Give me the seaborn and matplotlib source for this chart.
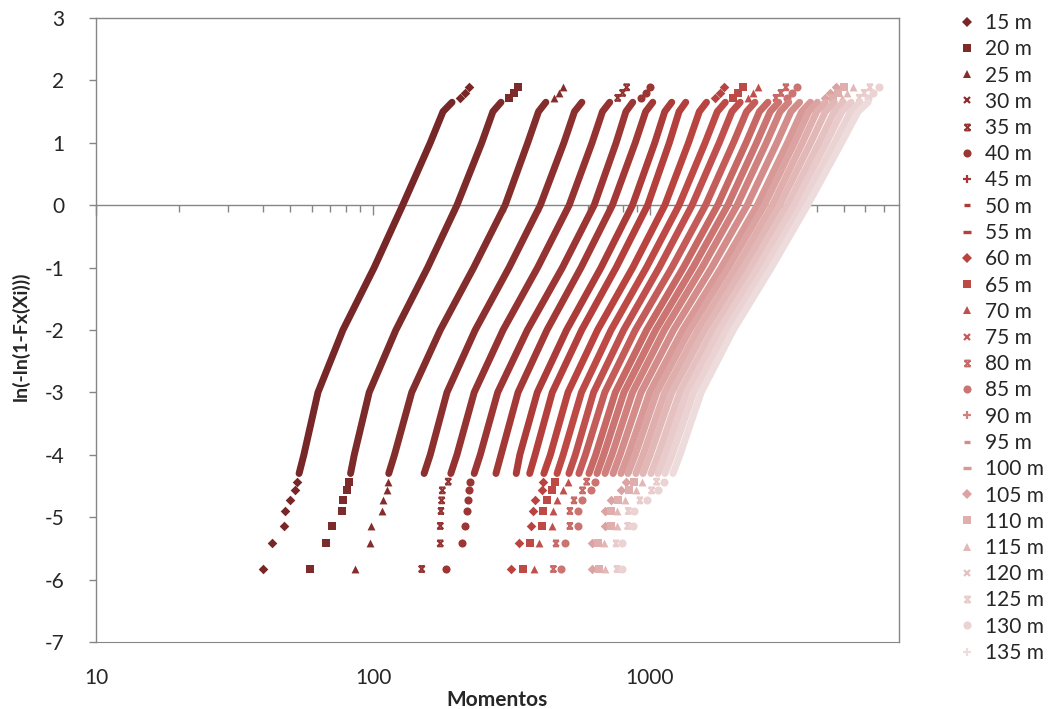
import numpy as np
import pandas as pd
import matplotlib
matplotlib.use("Agg")
import matplotlib.pyplot as plt
import seaborn as sns
from matplotlib.path import Path
from matplotlib.lines import Line2D
from matplotlib.ticker import FixedLocator, NullLocator, NullFormatter, FixedFormatter, LogLocator

sns.set_style("white")
plt.rcParams["font.family"] = ["Lato", "DejaVu Sans"]
plt.rcParams["axes.unicode_minus"] = False

names = ["15 m", "20 m", "25 m", "30 m", "35 m", "40 m", "45 m", "50 m", "55 m",
         "60 m", "65 m", "70 m", "75 m", "80 m", "85 m", "90 m", "95 m", "100 m",
         "105 m", "110 m", "115 m", "120 m", "125 m", "130 m", "135 m"]

# y levels: ln(-ln(1-Fx(Xi)))
y_bottom = [-5.83, -5.42, -5.14, -4.90, -4.73, -4.57, -4.43]
y_band = [-4.3, -4.0, -3.0, -2.0, -1.0, 0.0, 1.0, 1.5, 1.65]
y_top = [1.72, 1.80, 1.89]

# Momentos, one list per series: bottom | band | top
m15 = [40.2, 43.1, 47.8, 48.2, 50.3, 52.4, 53.3, 54.1, 56.3, 63.3, 77.9, 101, 128, 161, 179, 193, 206, 215, 223]
m20 = [59.2, 67.7, 70.9, 77.5, 78.1, 80.4, 81.9, 83, 85.6, 96.9, 121, 157.5, 201, 247, 271, 290, 310, 323, 335]
m25 = [86.1, 97.8, 98.3, 108, 109, 112.6, 113, 114, 119.6, 138, 175, 231, 300, 362, 396, 421, 450, 469, 487]
m30 = [118, 136, 136, 136, 137, 146, 151, 153, 161, 185, 234, 310, 402, 489, 534, 568, 607, 632, 655]
m35 = [150, 175, 175, 176, 177, 178, 187, 191, 201, 232, 295, 393, 511, 618, 674, 716, 765, 797, 824]
m40 = [183, 210, 215, 218, 220, 222, 224, 232, 244, 282, 361, 483, 629, 755, 819, 867, 927, 966, 1000]
m45 = [217, 241, 254, 265, 267, 270, 275, 278, 290, 334, 425, 564, 732, 885, 965, 1024, 1095, 1141, 1181]
m50 = [252, 276, 298, 311, 317, 319, 326, 329, 339, 392, 500, 666, 865, 1041, 1131, 1199, 1282, 1336, 1379]
m55 = [280, 304, 330, 338, 349, 354, 364, 368, 385, 444, 567, 755, 981, 1175, 1274, 1347, 1440, 1501, 1557]
m60 = [314, 336, 371, 377, 385, 406, 410, 414, 437, 506, 647, 867, 1132, 1378, 1508, 1601, 1711, 1784, 1850]
m65 = [347, 369, 406, 412, 424, 444, 454, 462, 486, 566, 724, 971, 1274, 1582, 1751, 1872, 2001, 2085, 2172]
m70 = [380, 399, 442, 448, 461, 486, 507, 510, 538, 626, 804, 1080, 1420, 1779, 1977, 2118, 2264, 2359, 2460]
m75 = [413, 431, 477, 484, 498, 529, 546, 554, 585, 687, 886, 1200, 1588, 2002, 2233, 2394, 2559, 2667, 2773]
m80 = [448, 458, 514, 514, 532, 571, 591, 602, 637, 750, 973, 1321, 1756, 2224, 2485, 2667, 2851, 2971, 3097]
m85 = [479, 493, 548, 551, 567, 611, 633, 644, 681, 806, 1049, 1430, 1910, 2427, 2719, 2918, 3119, 3251, 3385]
m90 = [512, 529, 583, 583, 599, 651, 678, 688, 729, 865, 1128, 1543, 2065, 2632, 2951, 3170, 3389, 3531, 3698]
m95 = [547, 559, 624, 621, 638, 692, 723, 736, 780, 929, 1217, 1671, 2245, 2874, 3229, 3471, 3710, 3867, 4042]
m100 = [583, 588, 656, 653, 678, 737, 771, 786, 835, 998, 1313, 1810, 2443, 3137, 3532, 3798, 4060, 4231, 4429]
m105 = [618, 618, 688, 686, 721, 786, 821, 833, 885, 1058, 1391, 1918, 2589, 3325, 3744, 4024, 4302, 4483, 4694]
m110 = [655, 649, 721, 721, 766, 838, 876, 890, 945, 1131, 1487, 2050, 2768, 3553, 4002, 4301, 4598, 4791, 5017]
m115 = [688, 682, 758, 758, 814, 892, 933, 944, 1002, 1200, 1578, 2178, 2941, 3805, 4300, 4634, 4954, 5162, 5393]
m120 = [723, 717, 794, 797, 866, 951, 994, 1009, 1071, 1282, 1684, 2320, 3137, 4079, 4626, 4992, 5336, 5561, 5813]
m125 = [760, 754, 831, 835, 920, 1014, 1057, 1069, 1135, 1357, 1780, 2452, 3314, 4336, 4930, 5331, 5699, 5939, 6228]
m130 = [792, 792, 870, 878, 973, 1072, 1123, 1133, 1203, 1439, 1890, 2604, 3525, 4641, 5300, 5743, 6139, 6398, 6727]
m135 = [819, 826, 908, 920, 1028, 1133, 1194, 1211, 1284, 1531, 2000, 2744, 3706, 4919, 5645, 6138, 6561, 6838, 7190]

series = [m15, m20, m25, m30, m35, m40, m45, m50, m55, m60, m65, m70, m75,
          m80, m85, m90, m95, m100, m105, m110, m115, m120, m125, m130, m135]

colors = ["#772727", "#7C2A2A", "#842D2D", "#8C302F", "#943331", "#9B3634", "#A33936",
          "#AB3C39", "#B3403C", "#B9443F", "#BE4A46", "#C0504D", "#C45C59", "#C86865",
          "#CC7471", "#D0807D", "#D48C8A", "#D89896", "#DBA3A2", "#DFAEAD", "#E2B8B7",
          "#E5C2C1", "#E8CBCA", "#EBD3D3", "#EEDCDC"]

star = Path([(-1, -1), (1, 1), (-1, 1), (1, -1), (-1, 1), (1, 1), (-1, -1), (1, -1)],
            [Path.MOVETO, Path.LINETO, Path.MOVETO, Path.LINETO,
             Path.MOVETO, Path.LINETO, Path.MOVETO, Path.LINETO])
# Excel cycle: diamond, square, triangle, x, star, circle, plus, short dash, long dash
marker_cycle = [("D", 24, True, 0), ("s", 28, True, 0), ("^", 32, True, 0),
                ("x", 20, False, 1.6), (star, 18, False, 1.4), ("o", 34, True, 0),
                ("+", 26, False, 1.6), ("_", 14, False, 2.4), ("_", 40, False, 2.4)]

levels = y_bottom + y_band + y_top
parts = ["bottom"] * len(y_bottom) + ["band"] * len(y_band) + ["top"] * len(y_top)
rows = []
for name, vals in zip(names, series):
    for x, y, p in zip(vals, levels, parts):
        rows.append((name, x, y, p))
df = pd.DataFrame(rows, columns=["serie", "momento", "y", "part"])

grey = "#868686"
fig = plt.figure(figsize=(10.49, 7.09), dpi=100)
ax = fig.add_axes([96 / 1049, 1 - 642 / 709, 803 / 1049, 624 / 709])
ax.set_xscale("log")

handles = []
for i, name in enumerate(names):
    d = df[df.serie == name]
    col = colors[i]
    mk, s, filled, lw = marker_cycle[i % 9]
    band = d[d.part == "band"]
    sns.lineplot(data=band, x="momento", y="y", color=col, lw=5, sort=False,
                 estimator=None, ax=ax, zorder=3, solid_capstyle="round")
    pts = d[d.part != "band"]
    if filled:
        ax.scatter(pts.momento, pts.y, marker=mk, s=s, color=col, linewidths=0, zorder=3)
    else:
        ax.scatter(pts.momento, pts.y, marker=mk, s=s, facecolors="none",
                   edgecolors=col, linewidths=lw, zorder=3)
    ms = np.sqrt(s)
    handles.append(Line2D([0], [0], ls="none", marker=mk, markersize=ms,
                          color=col, markerfacecolor=col if filled else "none",
                          markeredgecolor=col, markeredgewidth=lw if not filled else 0))

ax.set_xlim(10, 7930)
ax.set_ylim(-7, 3)
ax.set_xlabel("")
ax.set_ylabel("ln(-ln(1-Fx(Xi)))", fontsize=14, fontweight="bold")
ax.yaxis.set_label_coords(-0.083, 0.49)

for sp in ax.spines.values():
    sp.set_color(grey)
    sp.set_linewidth(1.0)
ax.spines["bottom"].set_position(("data", 0))
ax.spines["bottom"].set_zorder(1)
ax.xaxis.set_major_locator(FixedLocator([10, 100, 1000]))
ax.xaxis.set_minor_locator(LogLocator(base=10, subs=(2, 3, 4, 5, 6, 7, 8, 9), numticks=30))
ax.xaxis.set_minor_formatter(NullFormatter())
ax.tick_params(axis="x", which="both", bottom=True, direction="out", labelbottom=False,
               color=grey, width=1)
ax.tick_params(axis="x", which="major", length=7)
ax.tick_params(axis="x", which="minor", length=5)
ax.set_yticks(range(-7, 4))
ax.tick_params(axis="y", left=True, direction="out", length=5, width=1, color=grey,
               labelsize=15, pad=18)

sec = ax.secondary_xaxis("bottom")
sec.xaxis.set_major_locator(FixedLocator([10, 100, 1000]))
sec.xaxis.set_major_formatter(FixedFormatter(["10", "100", "1000"]))
sec.xaxis.set_minor_locator(NullLocator())
sec.xaxis.set_minor_formatter(NullFormatter())
sec.tick_params(bottom=True, length=0, labelsize=15, pad=19)
sec.spines["bottom"].set_color(grey)
sec.set_xlabel("Momentos", fontsize=15, fontweight="bold", labelpad=1)

fig.legend(handles, names, loc="upper left", bbox_to_anchor=(957 / 1049, 1 - 13 / 709),
           frameon=False, fontsize=15, handletextpad=0.35, labelspacing=0.30,
           handlelength=1.0, borderaxespad=0, borderpad=0)

fig.savefig("out.png", dpi=100)
